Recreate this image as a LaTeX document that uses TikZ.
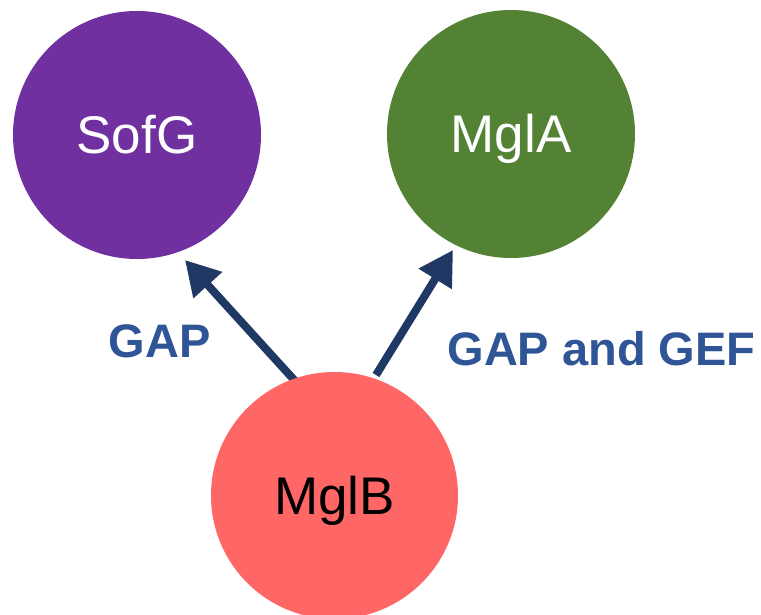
\documentclass[tikz,border=0pt]{standalone}
\usepackage{fontspec}
\setmainfont{Liberation Sans}
\usetikzlibrary{arrows.meta}
\definecolor{cpurple}{HTML}{7030A0}
\definecolor{cgreen}{HTML}{548235}
\definecolor{cred}{HTML}{FF6666}
\definecolor{carrow}{HTML}{203864}
\definecolor{ctext}{HTML}{2F5597}
\tikzset{
  protein/.style={circle, minimum size=248pt, inner sep=0pt, text height=38pt, text depth=0pt,
    font=\fontsize{53}{60}\selectfont},
  link/.style={carrow, line width=8pt, -{Triangle[length=34pt,width=37pt]}},
  lab/.style={anchor=base, text=ctext, font=\fontsize{47}{54}\selectfont\bfseries, inner sep=0pt}
}
\begin{document}
\begin{tikzpicture}[x=1pt,y=-1pt]
\useasboundingbox (0,0) rectangle (761,615);
\coordinate (t1) at (296,382);
\coordinate (h1) at (185,260);
\coordinate (t2) at (376,375);
\coordinate (h2) at (453,250);
\draw[link] (t1) -- (h1);
\draw[link] (t2) -- (h2);
\node[protein, fill=cpurple, text=white] (sofg) at (137,135) {SofG};
\node[protein, fill=cgreen, text=white] (mgla) at (511,134) {MglA};
\node[protein, fill=cred, text=black, minimum size=247pt] (mglb) at (334.5,495.5) {MglB};
\node[lab] (gap) at (159.5,357) {GAP};
\node[lab] (gapgef) at (601.5,365) {GAP and GEF};
\end{tikzpicture}
\end{document}
